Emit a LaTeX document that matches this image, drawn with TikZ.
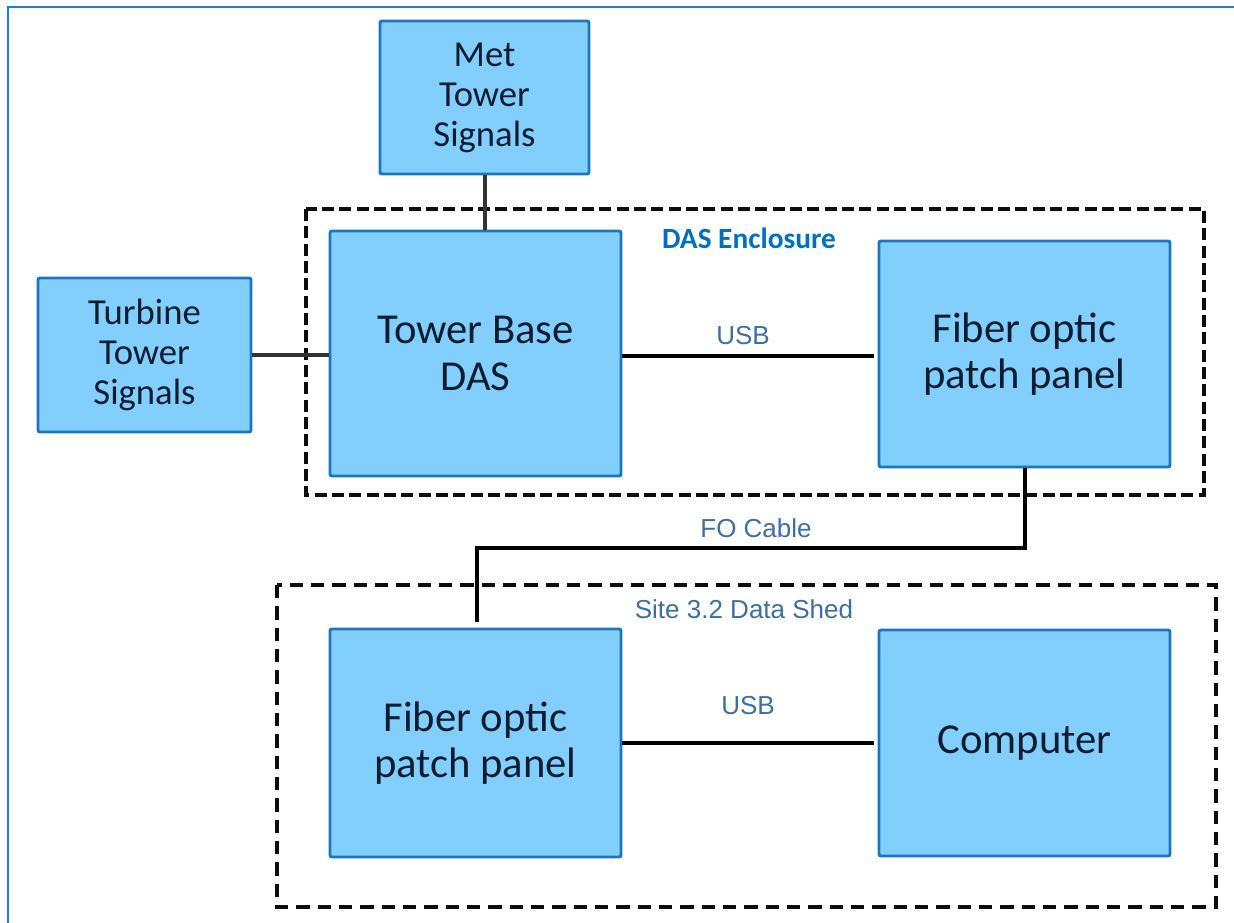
\documentclass[tikz,border=0pt]{standalone}
\usepackage{fontspec}
\setmainfont{Carlito}
\newfontfamily\arialf{Liberation Sans}
\usetikzlibrary{calc}
\definecolor{boxfill}{HTML}{82CEFC}
\definecolor{boxline}{HTML}{1A77BF}
\definecolor{boxtext}{HTML}{0C1D30}
\definecolor{lbl}{HTML}{3B6EA5}
\definecolor{encl}{HTML}{0070C0}
\definecolor{frame}{HTML}{1A82C8}
\tikzset{
  blk/.style={draw=boxline, fill=boxfill, line width=2.2pt, rounded corners=1.5pt,
    text=boxtext, align=center, inner sep=0pt},
  bigtxt/.style={font=\fontsize{32}{35}\selectfont},
  smalltxt/.style={font=\fontsize{27.5}{30}\selectfont},
  conn/.style={draw=black, line width=3pt},
  sigconn/.style={draw=black!80, line width=3pt},
  lab/.style={text=lbl, font=\arialf\fontsize{19.5}{22}\selectfont, inner sep=0pt},
  encbox/.style={draw=black!95, line width=3pt, dash pattern=on 9pt off 4pt},
  sitebox/.style={draw=black!95, line width=2.4pt, dash pattern=on 10pt off 6pt},
}
\begin{document}
\begin{tikzpicture}[x=0.75pt, y=-0.75pt]
\useasboundingbox (0,0) rectangle (1234,923);
% outer frame
\draw[frame, line width=1.5pt] (8,940) -- (8,7) -- (1250,7);
% enclosures
\draw[encbox] (306,209) rectangle (1204,495);
\draw[sitebox] (277,585) rectangle (1216,907);
% blocks
\node[blk, smalltxt, minimum width=209*0.75pt, minimum height=153*0.75pt] (met) at (484.5,97.5) {Met\\Tower\\Signals};
\node[blk, smalltxt, minimum width=213*0.75pt, minimum height=154*0.75pt] (turb) at (144.5,355) {Turbine\\Tower\\Signals};
\node[blk, bigtxt, minimum width=291*0.75pt, minimum height=245*0.75pt] (tb) at (475.5,353.5) {Tower Base\\DAS};
\node[blk, bigtxt, minimum width=291*0.75pt, minimum height=226*0.75pt] (fo1) at (1024.5,354) {Fiber optic\\patch panel};
\node[blk, bigtxt, minimum width=291*0.75pt, minimum height=228*0.75pt] (fo2) at (475.5,743) {Fiber optic\\patch panel};
\node[blk, bigtxt, minimum width=291*0.75pt, minimum height=226*0.75pt] (comp) at (1024.5,743) {Computer};
% labels
\node[text=encl, font=\bfseries\fontsize{22}{26}\selectfont, inner sep=0pt] (dasl) at (749,238) {DAS Enclosure};
\node[lab] (usb1) at (743,336) {USB};
\node[lab] (usb2) at (748,706) {USB};
\node[lab] (fol) at (756,528) {FO Cable};
\node[lab] (sitel) at (744,609) {Site 3.2 Data Shed};
% connectors
\coordinate (metx) at (485,0);
\draw[sigconn] (met.south -| metx) -- (tb.north -| metx);
\draw[sigconn] (turb.east) -- (turb.east -| tb.west);
\draw[conn, shorten >=3pt] (tb.east |- 0,356) -- (fo1.west |- 0,356);
\draw[conn, shorten >=3pt] (fo2.east) -- (comp.west);
\coordinate (foy) at (0,548);
\coordinate (fox) at (477,0);
\draw[conn, shorten >=4.5pt] (fo1.south) -- (fo1.south |- foy) -- (fox |- foy) -- (fox |- fo2.north);
\end{tikzpicture}
\end{document}
